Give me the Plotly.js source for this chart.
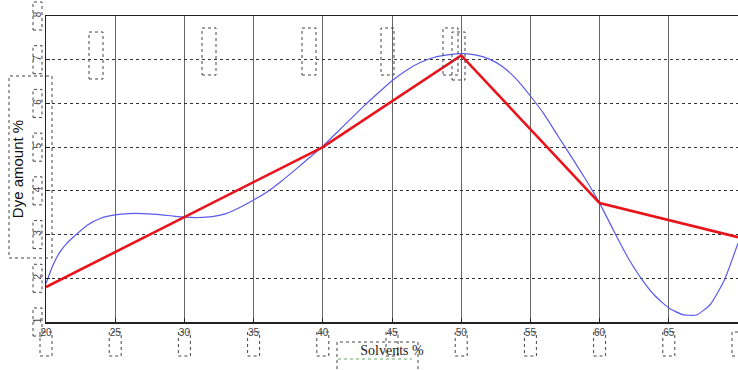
<!DOCTYPE html>
<html><head><meta charset="utf-8">
<script src="https://cdn.plot.ly/plotly-3.0.1.min.js"></script>
<style>html,body{margin:0;padding:0;background:#fff}#c{width:738px;height:370px}</style>
</head><body><div id="c"></div>
<script>
// Measured points (red polyline)
const solvents = [20, 30, 40, 50, 60, 70];
const dyeAmount = [1.8, 3.4, 5.0, 7.1, 3.72, 2.94];
// Smooth fitted curve (blue)
const fitX = [20,20.5,21,21.5,22,23,24,25,26,27,28,29,30,31,32,33,34,35,36,37,38,39,40,41,42,43,44,45,46,47,48,49,50,51,52,53,54,55,56,57,58,59,60,61,62,63,64,65,66,67,68,69,70];
const fitY = [1.88,2.3,2.6,2.8,2.95,3.22,3.38,3.45,3.48,3.48,3.46,3.43,3.40,3.39,3.41,3.48,3.62,3.79,3.98,4.22,4.48,4.75,5.02,5.33,5.64,5.95,6.24,6.52,6.75,6.93,7.05,7.11,7.14,7.11,7.02,6.84,6.55,6.17,5.75,5.25,4.76,4.26,3.72,3.1,2.5,2.0,1.6,1.32,1.17,1.16,1.4,1.95,2.8];
const xTicks = [20,25,30,35,40,45,50,55,60,65,70];
const yTicks = [1,2,3,4,5,6,7,8];

const L=46, T=16, W=692, H=306;
function px(x){return (x-L)/W;}
function py(y){return (T+H-y)/H;}
function box(x0,y0,x1,y1){
  return {type:'rect',xref:'paper',yref:'paper',x0:px(x0),x1:px(x1),y0:py(y1),y1:py(y0),
    line:{color:'#444',width:1,dash:'dot'},layer:'above'};
}
const shapes = [
  box(9,76,52,258),      // y title box
  box(337,342,418,372),  // x title box
  box(89,32,103,79), box(202,28,216,75), box(302,28,316,75), box(381,28,394,75), box(443,28,458,75), box(452,32,465,80),
  {type:'line',xref:'paper',yref:'paper',x0:px(338),x1:px(412),y0:py(359),y1:py(359),line:{color:'#6a6',width:1,dash:'dot'}}
];
// tick label boxes
xTicks.forEach(function(v){ var p=L+(v-20)*W/50; shapes.push(box(p-6,332,p+6,356)); });
yTicks.forEach(function(v){ var p=T+H-(v-1)*H/7; shapes.push(box(33,p-14,42,p+14)); });

const data = [
  {x: fitX, y: fitY, type:'scatter', mode:'lines', line:{color:'#5a5aee', width:1.2, shape:'spline', smoothing:0.5}, hoverinfo:'skip'},
  {x: solvents, y: dyeAmount, type:'scatter', mode:'lines', line:{color:'#e8131b', width:2.6}, hoverinfo:'skip'}
];
const layout = {
  width:738, height:370, showlegend:false,
  margin:{l:L, r:0, t:T, b:370-T-H},
  paper_bgcolor:'#fff', plot_bgcolor:'#fff',
  xaxis:{range:[20,70], tickvals:xTicks, ticktext:xTicks.map(String), showgrid:true, gridcolor:'#666', gridwidth:1,
    zeroline:false, showline:true, linecolor:'#222', linewidth:1.5, mirror:true, ticks:'inside', ticklen:4, tickcolor:'#222',
    tickfont:{family:'Liberation Sans, Arial', size:10, color:'#444'},
    title:{text:'Solvents %', font:{family:'Liberation Serif, Times New Roman', size:14, color:'#222'}, standoff:8}},
  yaxis:{range:[1,8], tickvals:yTicks, ticktext:yTicks.map(String), showgrid:true, gridcolor:'#333', gridwidth:1, griddash:'dot',
    zeroline:false, showline:true, linecolor:'#222', linewidth:1.5, mirror:true, ticks:'inside', ticklen:4, tickcolor:'#222',
    tickangle:-90, tickfont:{family:'Liberation Sans, Arial', size:10, color:'#444'},
    title:{text:'Dye amount %', font:{family:'Liberation Sans, Arial', size:15, color:'#111'}, standoff:4}},
  shapes: shapes
};
Plotly.newPlot('c', data, layout, {staticPlot:true, displayModeBar:false});
</script></body></html>
